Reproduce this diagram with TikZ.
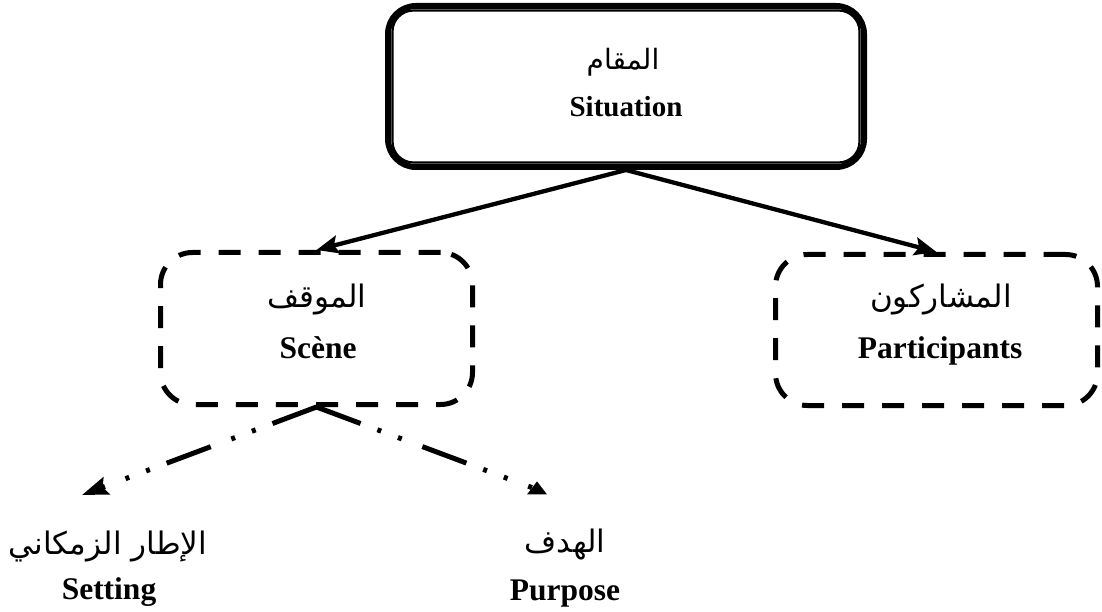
\documentclass[tikz,border=0pt]{standalone}
\usepackage{fontspec}
\setmainfont{Liberation Serif}
\newfontfamily\arabicfont[Script=Arabic]{DejaVu Sans}
\TeXXeTstate=1
\usetikzlibrary{arrows.meta,shapes.geometric}

\begin{document}
\begin{tikzpicture}[x=1pt,y=-1pt,
  mainbox/.style={draw, line width=6pt, rounded corners=28pt, inner sep=0pt},
  subbox/.style={draw, line width=5pt, dash pattern=on 22pt off 18pt,
    rounded corners=32pt, inner sep=0pt},
  en/.style={anchor=base, inner sep=0pt, font=\fontsize{31.5}{36}\selectfont\bfseries},
  ar/.style={inner sep=0pt, font=\fontsize{31}{36}\arabicfont},
  link/.style={line width=4.3pt, -{Stealth[length=22pt,width=18pt,inset=4pt]}},
  dashdot/.style={line width=5pt,
    dash pattern=on 47pt off 18pt on 4pt off 18pt on 4pt off 22pt}
]
\useasboundingbox[fill=white] (0,0) rectangle (1102,612);

% top box with a double frame
\node[mainbox, minimum width=476pt, minimum height=161pt] (sit) at (626,86.5) {};
\draw[line width=2.2pt, rounded corners=21pt]
  ([shift={(7.5pt,-7.5pt)}]sit.north west) rectangle ([shift={(-7.5pt,7.5pt)}]sit.south east);
\node[ar, font=\fontsize{28}{33}\arabicfont] (sitar) at (623,62) {\beginR المقام\endR};
\node[en, font=\fontsize{29}{34}\selectfont\bfseries] (siten) at (626,117) {Situation};

% second level
\node[subbox, minimum width=312pt, minimum height=152pt] (scene) at (316.5,328.5) {};
\node[ar] (scenear) at (317,300) {\beginR الموقف\endR};
\node[en] (sceneen) at (318,358) {Scène};

\node[subbox, minimum width=322pt, minimum height=151pt] (part) at (936.5,330) {};
\node[ar] (partar) at (941,300) {\beginR المشاركون\endR};
\node[en] (parten) at (940,358) {Participants};

\draw[link] (sit.south) -- (scene.north);
\draw[link] (sit.south) -- (part.north);

% third level
\coordinate (settip) at (82,495);
\node[isosceles triangle, isosceles triangle stretches, shape border rotate=90,
  minimum width=20pt, minimum height=13pt, inner sep=0pt, fill=black] (purtip) at (537,489.5) {};

\node[ar] (setar) at (108,547) {\beginR الإطار الزمكاني\endR};
\node[en] (seten) at (109,599) {Setting};
\node[ar] (purar) at (565,544) {\beginR الهدف\endR};
\node[en] (puren) at (565,600) {Purpose};

\draw[dashdot, -{Stealth[length=26pt,width=18pt,inset=4pt]}] (scene.south) -- (settip);
\draw[dashdot] (scene.south) -- (purtip);
\end{tikzpicture}
\end{document}
